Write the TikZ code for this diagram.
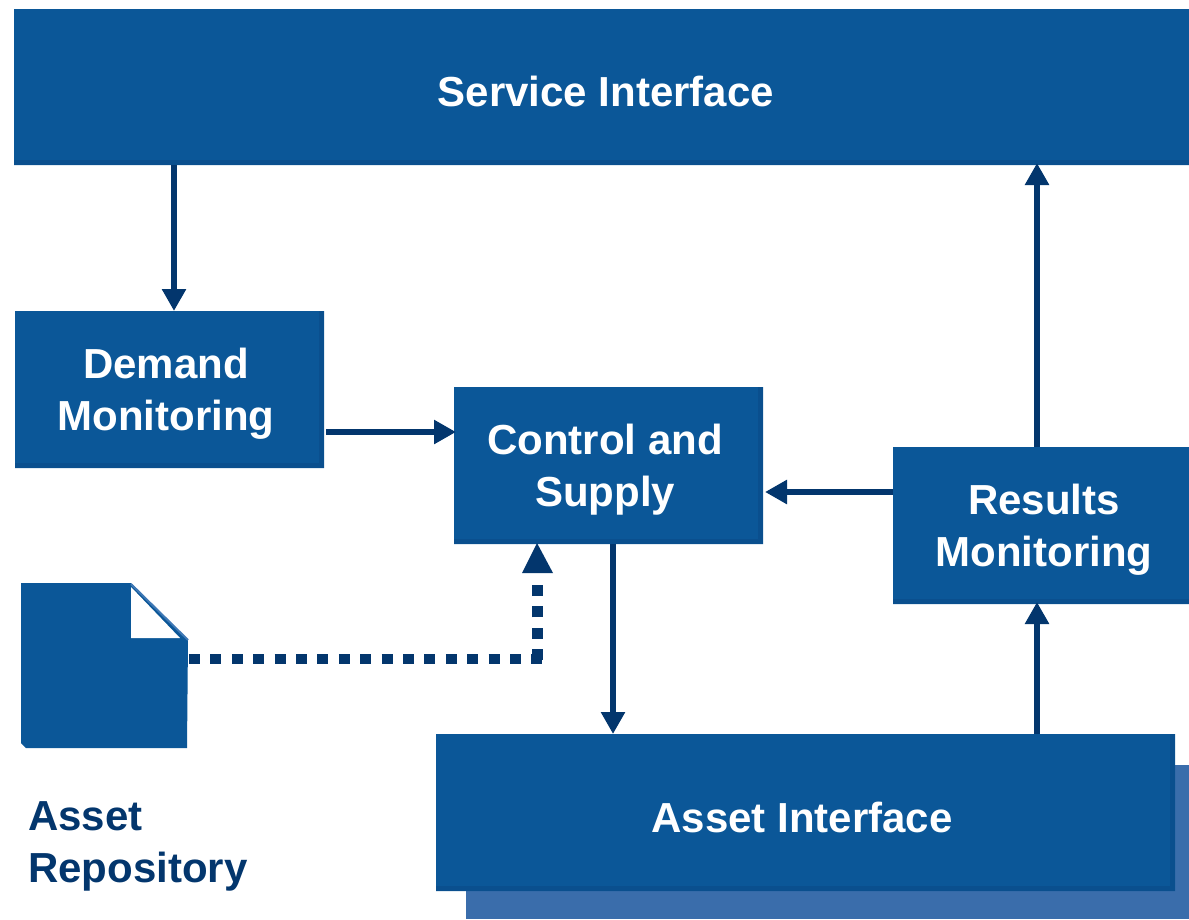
\documentclass[tikz,border=0pt]{standalone}
\usepackage{fontspec}
\setmainfont{Liberation Sans}
\usetikzlibrary{arrows.meta,calc,shapes.misc}
\definecolor{boxblue}{HTML}{0B5798}
\definecolor{boxedge}{HTML}{0A4F8E}
\definecolor{darkblue}{HTML}{03366D}
\definecolor{shadowblue}{HTML}{3A6DAB}
\definecolor{edgeblue}{HTML}{3F78B5}
\tikzset{
 x=1pt,y=-1pt,
 bx/.style={chamfered rectangle,chamfered rectangle corners={north east,south west},chamfered rectangle xsep=5pt,chamfered rectangle ysep=5pt,fill=boxblue,draw=none,anchor=north west,inner sep=0,outer sep=0,
  path picture={\fill[boxedge] ([yshift=5pt]path picture bounding box.south west) rectangle (path picture bounding box.south east);
  \fill[boxedge] ([xshift=-5pt]path picture bounding box.south east) rectangle (path picture bounding box.north east);}},
 txt/.style={inner sep=0,align=center,text=white,font=\bfseries\fontsize{42}{52}\selectfont},
 conn/.style={draw=darkblue,line width=6pt,-{Triangle[length=22pt,width=23pt]}},
 doth/.style={draw=darkblue,line width=10pt,dash pattern=on 11pt off 10.4pt},
 dotv/.style={draw=darkblue,line width=11pt,dash pattern=on 11pt off 10.3pt},
 lab/.style={text=darkblue,font=\bfseries\fontsize{42}{52}\selectfont,align=left,anchor=north west,inner sep=0}
}
\begin{document}
\begin{tikzpicture}
\useasboundingbox (0,0) rectangle (1189,919);
\fill[shadowblue] (466,765) rectangle (1189,919);
\node[bx,minimum width=1185pt,minimum height=156pt] (si) at (14,9) {};
\node[txt] (sit) at (606,91) {Service Interface};
\node[bx,minimum width=309pt,minimum height=157pt] (dm) at (15,311) {};
\node[txt] (dmt) at (166,394) {Demand\\Monitoring};
\node[bx,minimum width=309pt,minimum height=157pt] (cs) at (454,387) {};
\node[txt] (cst) at (605,470) {Control and\\Supply};
\node[bx,minimum width=306pt,minimum height=157pt] (rm) at (893,447) {};
\node[txt] (rmt) at (1044,530) {Results\\Monitoring};
\node[bx,minimum width=739pt,minimum height=157pt] (ai) at (436,734) {};
\node[txt] (ait) at (802,817) {Asset Interface};
\fill[boxblue] (21,583) -- (131,583) -- (188,640) -- (187,748) -- (26,748) -- (21,743) -- cycle;
\fill[white] (131,587) -- (131,638) -- (180,638) -- cycle;
\draw[edgeblue,line width=2pt] (131,584) -- (188,640);
\coordinate (doc) at (189,659);
\node[lab] (ar) at (28,801) {Asset\\Repository};
\coordinate (c1) at (174,165);
\coordinate (c2) at (174,311);
\draw[conn] (c1) -- (c2);
\coordinate (c3) at (326,432);
\coordinate (c4) at (456,432);
\draw[conn] (c3) -- (c4);
\coordinate (c5) at (893,492);
\coordinate (c6) at (765,492);
\draw[conn] (c5) -- (c6);
\coordinate (c7) at (613,544);
\coordinate (c8) at (613,734);
\draw[conn] (c7) -- (c8);
\coordinate (c9) at (1037,734);
\coordinate (c10) at (1037,602);
\draw[conn] (c9) -- (c10);
\coordinate (c11) at (1037,447);
\coordinate (c12) at (1037,163);
\draw[conn] (c11) -- (c12);
\coordinate (c13) at (542,659);
\coordinate (c15) at (537,660);
\coordinate (c14) at (537,585);
\draw[doth] (doc) -- (c13);
\draw[dotv] (c15) -- (c14);
\fill[darkblue] (537,543) -- (553,573) -- (522,573) -- cycle;
\end{tikzpicture}
\end{document}
